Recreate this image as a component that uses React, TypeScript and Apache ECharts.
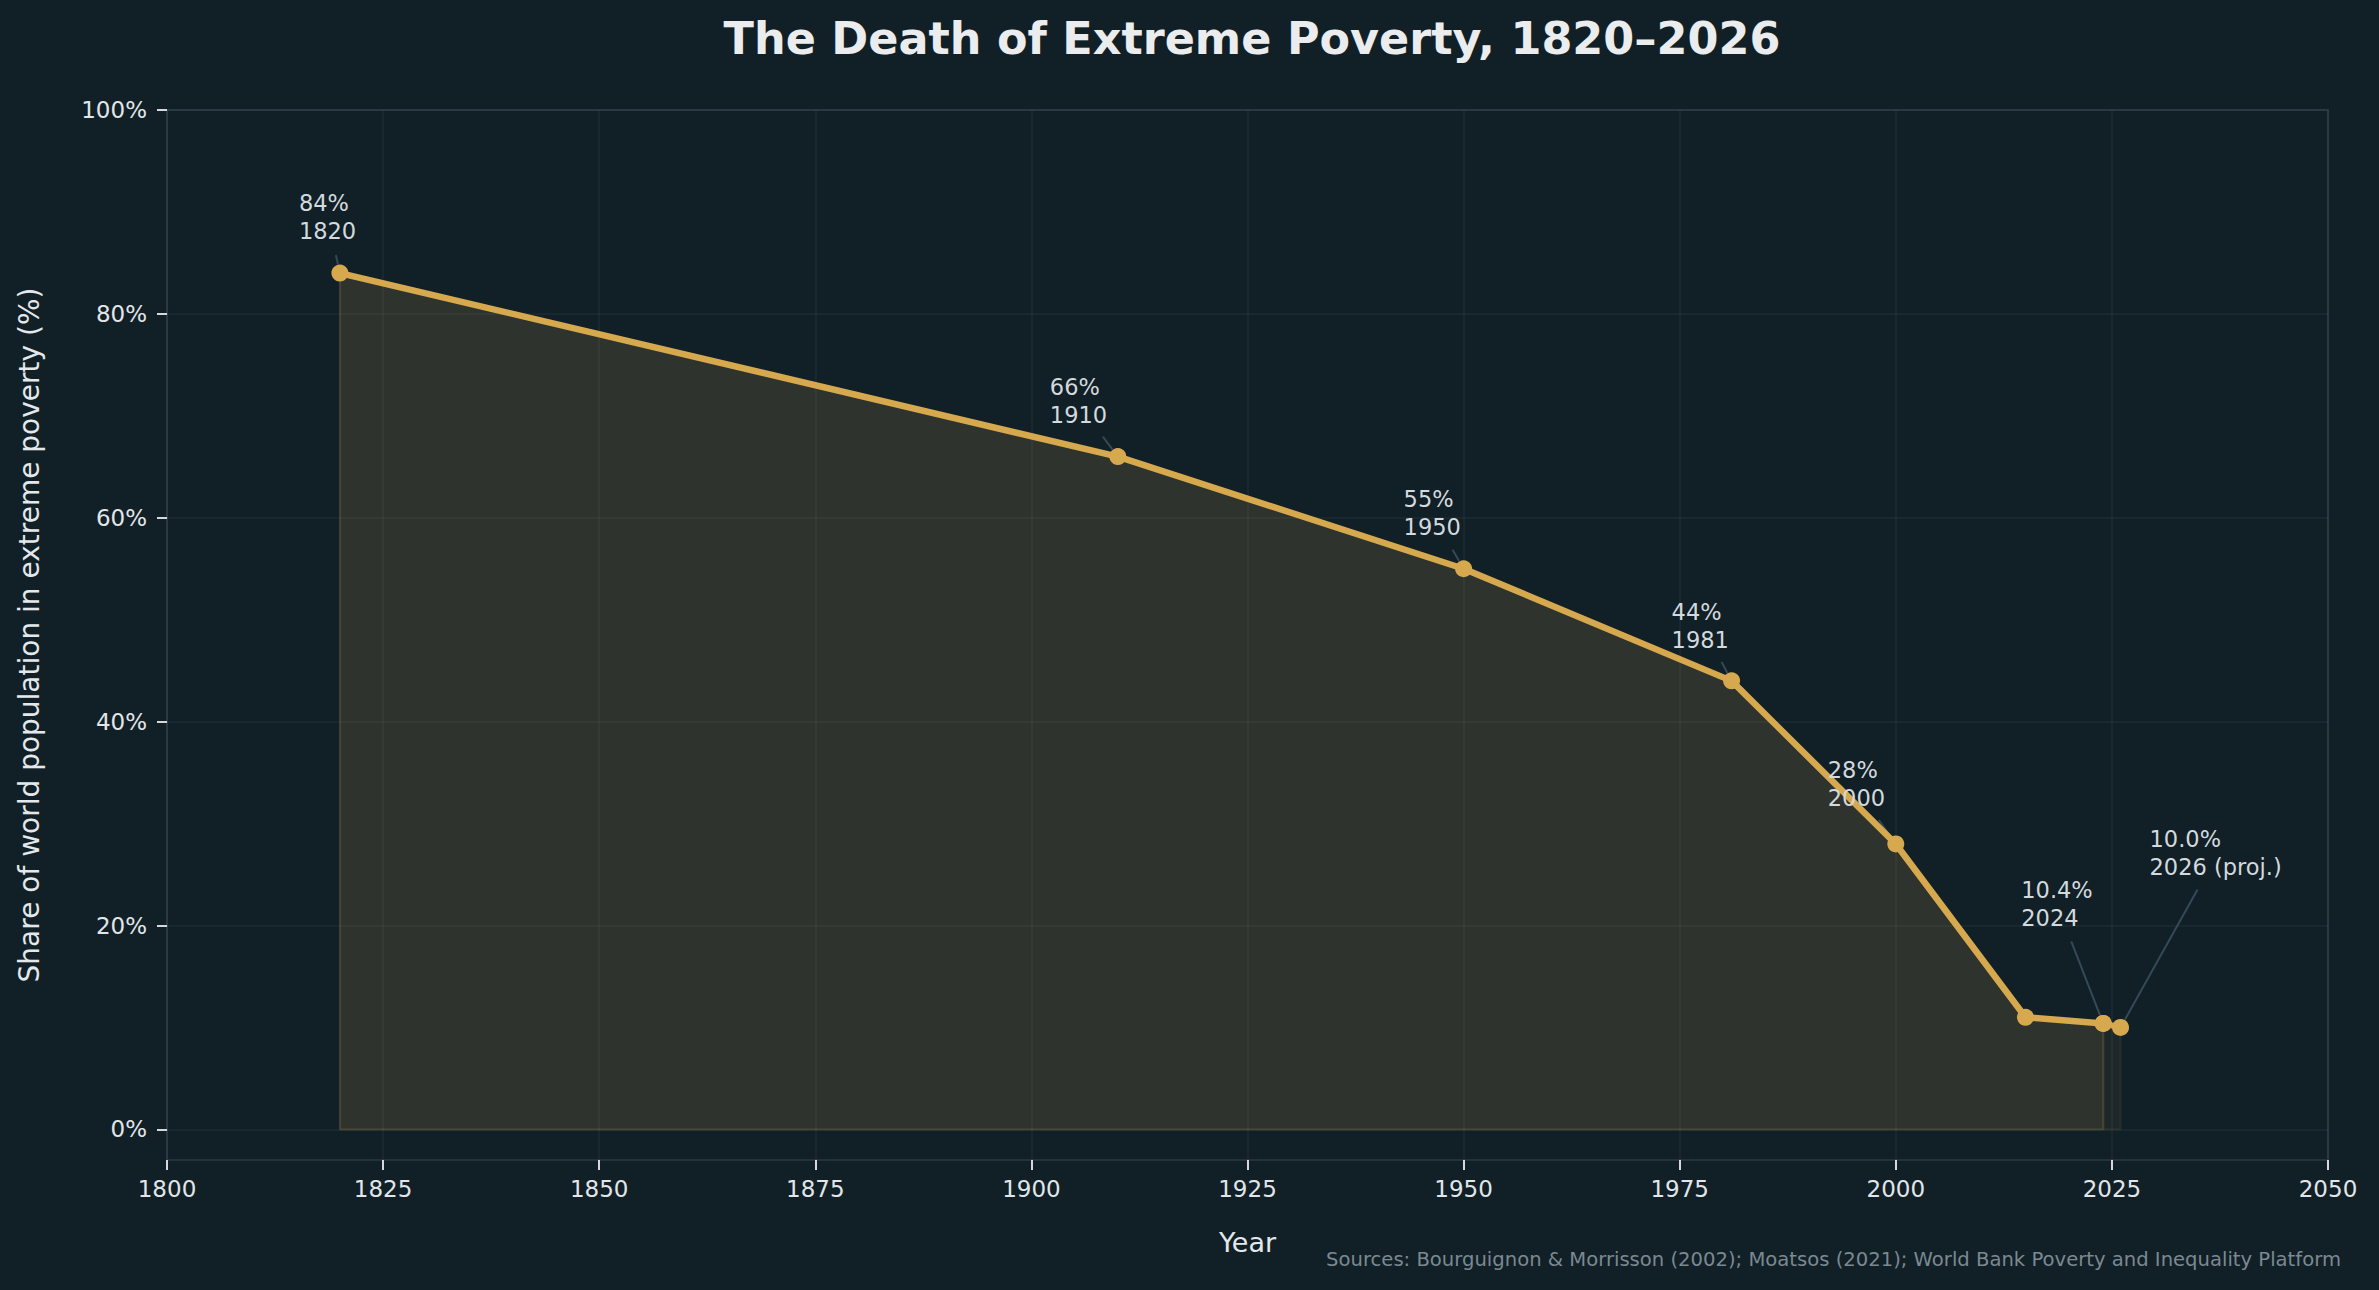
import { useEffect, useRef } from "react";
import * as echarts from "echarts";

// Share of the world population living in extreme poverty (%)
const years = [1820, 1910, 1950, 1981, 2000, 2015, 2024];
const povertyShare = [84, 66, 55, 44, 28, 11, 10.4];
const projectionYears = [2024, 2026];
const projectionShare = [10.4, 10.0];

const xTicks = [1800, 1825, 1850, 1875, 1900, 1925, 1950, 1975, 2000, 2025, 2050];
const yTicks = [0, 20, 40, 60, 80, 100];

// Points that carry a callout
const labelledYears = [1820, 1910, 1950, 1981, 2000, 2024, 2026];
const labelDecimals = [0, 0, 0, 0, 0, 1, 1];
const labelNotes = ["", "", "", "", "", "", " (proj.)"];

// Callout placement relative to its point, in pixels:
// [text left, first-line centre, leader start x, leader start y]
const labelOffsets = [
  [-41, -70, -4, -18],
  [-68, -70, -15, -20],
  [-60, -70, -11, -19],
  [-60, -69, -10, -19],
  [-68, -74, -17, -24],
  [-82, -133, -32, -82],
  [29, -188, 77, -138],
];

const TITLE = "The Death of Extreme Poverty, 1820\u20132026";
const SOURCES =
  "Sources: Bourguignon & Morrisson (2002); Moatsos (2021); World Bank Poverty and Inequality Platform";

const FONT = '"DejaVu Sans", "Liberation Sans", sans-serif';
const BG = "#111f27";
const GOLD = "#d7a94f";
const GRID = "rgba(120,150,170,0.10)";
const FRAME = "#22333d";

function valueAt(year: number): number {
  const i = years.indexOf(year);
  if (i >= 0) return povertyShare[i];
  return projectionShare[projectionYears.indexOf(year)];
}

export default function App() {
  const ref = useRef<HTMLDivElement>(null);

  useEffect(() => {
    if (!ref.current) return;
    const chart = echarts.init(ref.current, undefined, { renderer: "svg" });

    const history = years.map((y, i) => [y, povertyShare[i]]);
    const projection = projectionYears.map((y, i) => [y, projectionShare[i]]);
    const last = years.length - 1;
    const historyEdge = [
      [years[0], povertyShare[0]],
      [years[0], 0],
      [years[last], 0],
      [years[last], povertyShare[last]],
    ];
    const pl = projectionYears.length - 1;
    const projectionEdge = [
      [projectionYears[0], 0],
      [projectionYears[pl], 0],
      [projectionYears[pl], projectionShare[pl]],
    ];

    chart.setOption({
      animation: false,
      backgroundColor: BG,
      title: {
        text: TITLE,
        left: 1247,
        top: 11,
        textAlign: "center",
        textStyle: { color: "#eaeced", fontSize: 44.5, fontWeight: "bold", fontFamily: FONT },
      },
      grid: {
        left: 167,
        top: 110,
        width: 2161,
        height: 1050,
        show: true,
        borderColor: FRAME,
        borderWidth: 2,
        backgroundColor: "transparent",
      },
      xAxis: {
        type: "value",
        min: 1800,
        max: 2050,
        interval: 25,
        name: "Year",
        nameLocation: "middle",
        nameGap: 69,
        nameTextStyle: { color: "#e4e8ea", fontSize: 27, fontFamily: FONT },
        axisLine: { show: false, onZero: false },
        axisTick: { show: true, length: 10, lineStyle: { color: "#d3d9dc", width: 2 } },
        axisLabel: {
          color: "#e2e6e8",
          fontSize: 23,
          fontFamily: FONT,
          margin: 17,
          formatter: (v: number) => String(v),
          customValues: xTicks,
        },
        splitLine: { show: true, lineStyle: { color: GRID, width: 1.5 } },
      },
      yAxis: {
        type: "value",
        min: -3,
        max: 100,
        name: "Share of world population in extreme poverty (%)",
        nameLocation: "middle",
        nameRotate: 90,
        nameGap: 124,
        nameTextStyle: { color: "#e4e8ea", fontSize: 28, fontFamily: FONT },
        axisLine: { show: false, onZero: false },
        axisTick: {
          show: true,
          length: 10,
          lineStyle: { color: "#d3d9dc", width: 2 },
          customValues: yTicks,
        },
        axisLabel: {
          color: "#e2e6e8",
          fontSize: 23,
          fontFamily: FONT,
          margin: 20,
          formatter: "{value}%",
          customValues: yTicks,
        },
        splitLine: { show: true, lineStyle: { color: GRID, width: 1.5 } },
      },
      series: [
        {
          type: "line",
          data: historyEdge,
          symbol: "none",
          silent: true,
          z: 1,
          lineStyle: { color: "rgba(215,169,79,0.2)", width: 2 },
        },
        {
          type: "line",
          data: projectionEdge,
          symbol: "none",
          silent: true,
          z: 1,
          lineStyle: { color: "rgba(215,169,79,0.09)", width: 2 },
        },
        {
          type: "line",
          data: projection,
          symbol: "circle",
          symbolSize: 17,
          z: 3,
          itemStyle: { color: GOLD },
          lineStyle: { color: GOLD, width: 6, type: "dashed" },
          areaStyle: { color: GOLD, opacity: 0.07 },
        },
        {
          type: "line",
          data: history,
          symbol: "circle",
          symbolSize: 17,
          z: 4,
          itemStyle: { color: GOLD },
          lineStyle: { color: GOLD, width: 6.5 },
          areaStyle: { color: GOLD, opacity: 0.15 },
        },
      ],
    });

    const graphics: any[] = [];
    labelledYears.forEach((yr, i) => {
      const v = valueAt(yr);
      const [px, py] = chart.convertToPixel({ gridIndex: 0 }, [yr, v]) as number[];
      const [tx, ty, lx, ly] = labelOffsets[i];
      const sx = px + lx;
      const sy = py + ly;
      const dx = px - sx;
      const dy = py - sy;
      const d = Math.hypot(dx, dy) || 1;
      graphics.push({
        type: "line",
        z: 1,
        silent: true,
        shape: { x1: sx, y1: sy, x2: px - (dx / d) * 9, y2: py - (dy / d) * 9 },
        style: { stroke: "#34495a", lineWidth: 2 },
      });
      graphics.push({
        type: "text",
        z: 100,
        x: px + tx,
        y: py + ty - 14,
        style: {
          text: `${v.toFixed(labelDecimals[i])}%\n${yr}${labelNotes[i]}`,
          fill: "#d3d9dd",
          font: `22.5px ${FONT}`,
          lineHeight: 28,
          textAlign: "left",
          textVerticalAlign: "top",
        },
      });
    });
    graphics.push({
      type: "text",
      z: 100,
      x: 2341,
      y: 1259,
      style: {
        text: SOURCES,
        fill: "#7b8990",
        font: `19.6px ${FONT}`,
        textAlign: "right",
        textVerticalAlign: "middle",
      },
    });
    chart.setOption({ graphic: graphics });

    return () => chart.dispose();
  }, []);

  return (
    <div
      ref={ref}
      style={{ position: "fixed", left: 0, top: 0, width: 2379, height: 1290, background: BG }}
    />
  );
}
